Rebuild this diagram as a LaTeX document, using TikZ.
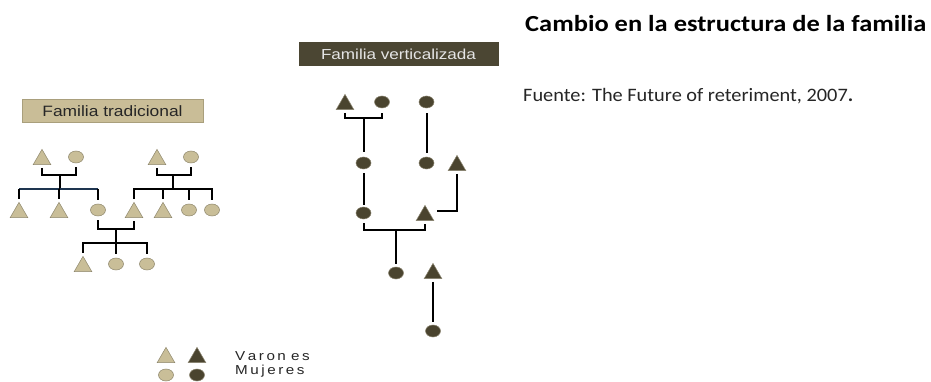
\documentclass[tikz,border=0pt]{standalone}
\usepackage{fontspec}
\setmainfont{Carlito}
\newfontfamily\arialf{Liberation Sans}
\usetikzlibrary{shapes.geometric}
\definecolor{lighttan}{HTML}{C9BE98}
\definecolor{lightedge}{HTML}{8E876C}
\definecolor{darkol}{HTML}{4A442F}
\definecolor{darkedge}{HTML}{8A8470}
\definecolor{boxtan}{HTML}{C9BD97}
\definecolor{boxtanedge}{HTML}{A99F7C}
\definecolor{boxdark}{HTML}{4B4633}
\definecolor{navyln}{HTML}{1E3550}
\tikzset{
  tri/.style={regular polygon, regular polygon sides=3, minimum size=20.5pt, inner sep=0pt, line width=0.5pt},
  circ/.style={ellipse, minimum width=15pt, minimum height=12pt, inner sep=0pt, line width=0.5pt},
  lt/.style={fill=lighttan, draw=lightedge},
  dk/.style={fill=darkol, draw=darkedge},
  ln/.style={line width=2pt, black},
  lbox/.style={inner sep=0pt, line width=1pt},
  legtxt/.style={anchor=base west, inner sep=0pt, xscale=1.17, font=\arialf\fontsize{13}{15}\selectfont, text=black!85}
}
\begin{document}
\begin{tikzpicture}[x=1pt,y=-1pt]
\path[use as bounding box, fill=white] (0,0) rectangle (931,382);

% ---------- Familia tradicional ----------
\node[lbox, fill=boxtan, draw=boxtanedge, minimum width=181pt, minimum height=23pt] (btrad) at (112.5,111.5) {};
\node[inner sep=0pt, xscale=1.16, font=\arialf\fontsize{15}{17}\selectfont, text=black!85] (ttrad) at (btrad.center) {Familia tradicional};

% top-left couple
\node[tri, lt] (ta) at (42,159.6) {};
\node[circ, lt] (oa) at (76,157) {};
% top-right couple
\node[tri, lt] (tb) at (157,159.6) {};
\node[circ, lt] (ob) at (191,157) {};
% children of left couple
\node[tri, lt] (c1) at (19,212.6) {};
\node[tri, lt] (c2) at (59,212.6) {};
\node[circ, lt] (c3) at (98,210) {};
% children of right couple
\node[tri, lt] (d1) at (134,212.6) {};
\node[tri, lt] (d2) at (163,212.6) {};
\node[circ, lt] (d3) at (189,210) {};
\node[circ, lt] (d4) at (212,210) {};
% grandchildren
\node[tri, lt] (g1) at (83,266.6) {};
\node[circ, lt] (g2) at (116,264) {};
\node[circ, lt] (g3) at (147,264) {};

\coordinate (ja) at (60,175);
\coordinate (ba) at (60,189);
\coordinate (jb) at (173,175);
\coordinate (bb) at (173,189);
\coordinate (jc) at (116,229);
\coordinate (bc) at (116,243);

\draw[ln] ([yshift=-3pt]ta.south) |- (ja) -| ([yshift=-4pt]oa.south);
\draw[ln] (ja) -- (ba);
\draw[line width=1.5pt, navyln] (c1 |- ba) -- (c3 |- ba);
\draw[ln] (ba) -- (c2 |- ba);
\draw[ln] (c1 |- ba) -- ([yshift=3pt]c1.north);
\draw[ln] (c2 |- ba) -- ([yshift=3pt]c2.north);
\draw[ln] (c3 |- ba) -- ([yshift=4pt]c3.north);

\draw[ln] ([yshift=-3pt]tb.south) |- (jb) -| ([yshift=-4pt]ob.south);
\draw[ln] (jb) -- (bb);
\draw[ln] ([yshift=3pt]d1.north) |- (bb) -| ([yshift=4pt]d4.north);
\draw[ln] (d2 |- bb) -- ([yshift=3pt]d2.north);
\draw[ln] (d3 |- bb) -- ([yshift=4pt]d3.north);

\draw[ln] ([yshift=-4pt]c3.south) |- (jc) -| ([yshift=-3pt]d1.south);
\draw[ln] (jc) -- (bc);
\draw[ln] ([yshift=3pt]g1.north) |- (bc) -| ([yshift=4pt]g3.north);
\draw[ln] (bc) -- ([yshift=4pt]g2.north);

% ---------- Familia verticalizada ----------
\node[lbox, fill=boxdark, draw=boxdark, minimum width=199pt, minimum height=23pt] (bvert) at (398.5,54.5) {};
\node[inner sep=0pt, xscale=1.18, font=\arialf\fontsize{14.5}{17}\selectfont, text=white!90!black] (tvert) at (bvert.center) {Familia verticalizada};

\node[tri, dk] (va) at (345,104.6) {};
\node[circ, dk] (vb) at (382,102) {};
\node[circ, dk] (vc) at (426.5,102) {};
\node[circ, dk] (vd) at (363.5,163) {};
\node[circ, dk] (ve) at (426.5,163) {};
\node[tri, dk] (vf) at (457,165.6) {};
\node[circ, dk] (vg) at (363.5,213) {};
\node[tri, dk] (vh) at (425,215.6) {};
\node[circ, dk] (vi) at (396,273) {};
\node[tri, dk] (vj) at (433,273.6) {};
\node[circ, dk] (vk) at (433,331) {};

\coordinate (jv1) at (363.5,118);
\coordinate (jv2) at (396,230);

\draw[ln] ([yshift=-3pt]va.south) |- (jv1) -| ([yshift=-5pt]vb.south);
\draw[ln] (jv1) -- ([yshift=5pt]vd.north);
\draw[ln] ([yshift=-5pt]vc.south) -- ([yshift=4pt]ve.north);
\draw[ln] ([yshift=-4pt]vd.south) -- ([yshift=2pt]vg.north);
\draw[ln] ([yshift=-3pt]vf.south) |- ([xshift=6pt]vh.east |- 0,211);
\draw[ln] ([yshift=-4pt]vg.south) |- (jv2) -| ([yshift=-3pt]vh.south);
\draw[ln] (jv2) -- ([yshift=3pt]vi.north);
\draw[ln] ([yshift=-3pt]vj.south) -- ([yshift=3pt]vk.north);

% ---------- legend ----------
\node[tri, lt] (lt1) at (166,357.6) {};
\node[tri, dk] (lt2) at (197,357.6) {};
\node[circ, lt] (lc1) at (166,375) {};
\node[circ, dk] (lc2) at (197,375) {};
\node[legtxt] (lv) at (235,360) {V\,a\,r\,o\,n\,\,e\,s};
\node[legtxt] (lm) at (235,374) {M\,u\,j\,e\,r\,e\,s};

% ---------- titles ----------
\node[anchor=base west, inner sep=0pt, xscale=1.15, font=\bfseries\fontsize{23}{27}\selectfont] (title) at (525,32) {Cambio en la estructura de la familia};
\node[anchor=base west, inner sep=0pt, xscale=1.07, font=\fontsize{19}{22}\selectfont, text=black!85] (src) at (523,101.5) {Fuente: The Future of reteriment, 2007\textbf{.}};
\end{tikzpicture}
\end{document}
